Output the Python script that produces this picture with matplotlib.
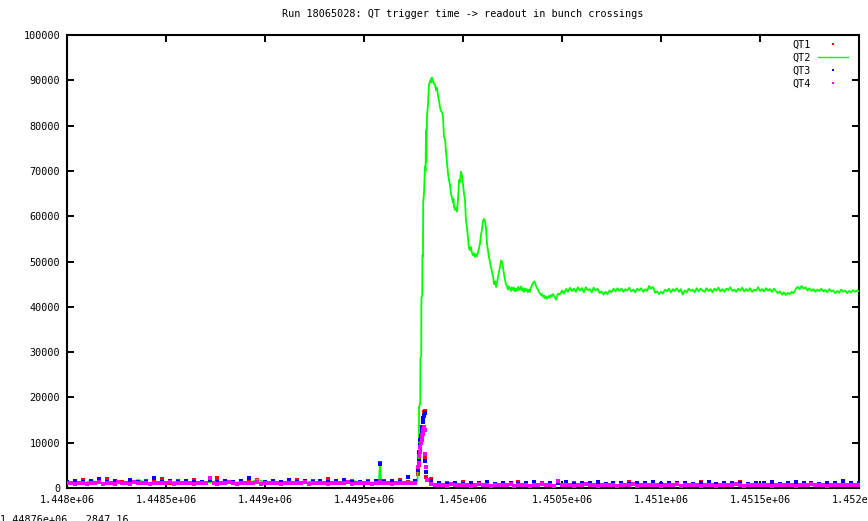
import numpy as np
import matplotlib
matplotlib.use("Agg")
import matplotlib.pyplot as plt
from matplotlib.lines import Line2D

title = "Run 18065028: QT trigger time -> readout in bunch crossings"
series_names = ["QT1", "QT2", "QT3", "QT4"]
series_colors = ["#ff0000", "#00ff00", "#0000ff", "#ff00ff"]
x_ticks = [1448000, 1448500, 1449000, 1449500, 1450000, 1450500, 1451000, 1451500, 1452000]
x_tick_labels = ["1.448e+06", "1.4485e+06", "1.449e+06", "1.4495e+06", "1.45e+06",
                 "1.4505e+06", "1.451e+06", "1.4515e+06", "1.452e+06"]
y_ticks = [0, 10000, 20000, 30000, 40000, 50000, 60000, 70000, 80000, 90000, 100000]
mouse_text = "1.44876e+06,  2847.16"

# ---- QT4 (magenta) baseline, 20-unit grid ----
mag_pre_start, mag_pre_step = 1448000, 20
mag_pre = [1000, 1100, 950, 1200, 1050, 900, 1150, 1000, 1300, 980,
           1100, 1050, 900, 1250, 1000, 1100, 950, 1400, 1050, 1000,
           1150, 900, 1100, 1200, 1000, 1050, 1300, 950, 1100, 1000,
           1150, 1050, 900, 1200, 1000, 1100, 2300, 1050, 950, 1100,
           1000, 1250, 1050, 900, 1100, 1000, 1150, 1050, 1300, 950,
           1100, 1000, 1200, 1050, 900, 1100, 1000, 1150, 1050, 1000,
           1250, 950, 1100, 1000, 1150, 1050, 900, 1200, 1000, 1100,
           1050, 1300, 950, 1100, 1000, 1150, 1050, 900, 1100, 1000,
           1200, 1050, 950, 1100, 1000, 1150, 1050, 1000, 1100]
mag_post_start, mag_post_step = 1449820, 20
mag_post = [1800, 900, 700, 600, 750, 550, 800, 650, 700, 600,
            750, 500, 650, 800, 600, 700, 550, 750, 650, 600,
            700, 800, 550, 650, 600, 750, 500, 700, 650, 800,
            600, 700, 550, 1500, 650, 600, 750, 500, 700, 650,
            800, 600, 700, 550, 650, 750, 600, 700, 500, 650,
            700, 600, 800, 550, 650, 700, 600, 750, 650, 550,
            700, 650, 600, 800, 550, 700, 650, 600, 750, 500,
            650, 700, 600, 550, 750, 650, 700, 600, 800, 650,
            550, 700, 600, 650, 750, 600, 700, 550, 650, 700,
            600, 750, 650, 550, 700, 600, 650, 800, 600, 700,
            650, 550, 700, 600, 750, 650, 600, 700, 650, 600]

# ---- QT1 (red) and QT3 (blue) baselines, 40-unit grid ----
rb_pre_start, rb_post_start, rb_step = 1448000, 1449840, 40
red_pre = [1400, 1200, 1800, 1300, 1500, 2000, 1250, 1400, 1600, 1300,
           1500, 1350, 1900, 1200, 1450, 1300, 1700, 1250, 1500, 2100,
           1300, 1400, 1600, 1250, 1800, 1350, 1500, 1200, 1450, 1700,
           1300, 1550, 1250, 1900, 1400, 1300, 1600, 1350, 1500, 1250,
           1450, 1300, 1700, 1400, 1350]
red_post = [2000, 900, 1100, 800, 1300, 950, 1000, 1200, 850, 1100,
            950, 1250, 900, 1000, 1150, 850, 1300, 950, 1050, 900,
            1100, 1200, 850, 1000, 950, 1300, 900, 1100, 1000, 850,
            1200, 950, 1050, 900, 1250, 1000, 850, 1100, 950, 1300,
            900, 1050, 1000, 1200, 850, 1100, 950, 1000, 1150, 900,
            1050, 950, 1200, 1000, 900]
blue_pre = [1300, 1600, 1250, 1500, 1900, 1350, 1450, 1200, 1700, 1400,
            1250, 2200, 1350, 1500, 1300, 1650, 1400, 1250, 1800, 1350,
            1500, 1300, 1450, 2300, 1400, 1250, 1550, 1350, 1700, 1300,
            1450, 1250, 1600, 1350, 1500, 1800, 1300, 1400, 1250, 1650,
            1350, 1500, 1300, 2400, 1450]
blue_post = [1500, 1000, 900, 1200, 850, 1100, 1000, 1300, 950, 1050,
             1200, 900, 1050, 1350, 950, 1100, 1000, 1250, 900, 1150,
             1000, 1300, 950, 1050, 1200, 900, 1100, 1000, 1250, 950,
             1100, 1000, 1200, 900, 1050, 1350, 950, 1100, 1000, 1200,
             950, 1150, 1000, 1300, 900, 1050, 1250, 1000, 1100, 950,
             1200, 1050, 1500, 1000, 1100]

# ---- spikes of the dot series ----
spike_x = [1449581, 1449773, 1449776, 1449779, 1449782, 1449785, 1449788,
           1449791, 1449794, 1449797, 1449800, 1449803, 1449806, 1449809, 1449813]
red_spike = [5500, 3000, 5000, 6500, 8500, 9500, 11000, 12000, 13500, 14500,
             15500, 16800, 16900, 6900, 2500]
blue_spike = [5200, 4000, 6000, 8000, 9500, 10500, 11500, 12500, 13500, 14500,
              15500, 16000, 16500, 6000, 3500]
mag_spike = [1500, 4600, 5500, 7000, 8000, 9000, 10000, 10600, 11500, 12000,
             12800, 13500, 12800, 7500, 4600]

# ---- QT2 (green) ----
green_pre_start, green_pre_step = 1448000, 40
green_pre = [1100, 1300, 1000, 1600, 1200, 1100, 1400, 1000, 1250, 1800,
             1100, 1300, 1050, 1200, 1500, 1000, 1350, 1100, 1250, 1000,
             1400, 1150, 1300, 1000, 1900, 1200, 1100, 1350, 1050, 1250,
             1100, 1500, 1000, 1300, 1200, 1050, 1700, 1100, 1300, 1150]
green_peak_x = [1449575, 1449581, 1449587, 1449600, 1449640, 1449680, 1449720, 1449760, 1449770,
                1449773, 1449777, 1449778, 1449784, 1449785, 1449789, 1449790, 1449794,
                1449795, 1449798, 1449799, 1449803, 1449808, 1449811, 1449813, 1449815,
                1449818, 1449823, 1449828, 1449833, 1449838, 1449841, 1449843, 1449848,
                1449854, 1449859, 1449864, 1449869, 1449874, 1449879, 1449884, 1449889,
                1449894, 1449899, 1449904, 1449909, 1449914, 1449919, 1449924, 1449929,
                1449934, 1449939, 1449944, 1449949, 1449952, 1449955, 1449960, 1449965,
                1449970, 1449975, 1449980, 1449985, 1449990, 1449995, 1450000, 1450005,
                1450010, 1450015, 1450020, 1450025, 1450030, 1450035, 1450040, 1450045,
                1450050, 1450056, 1450061, 1450066, 1450071, 1450076, 1450081, 1450086,
                1450091, 1450096, 1450101, 1450106, 1450111, 1450116, 1450121, 1450126,
                1450131, 1450136, 1450141, 1450146, 1450152, 1450157, 1450162, 1450167,
                1450172, 1450177, 1450182, 1450187, 1450192, 1450197, 1450202, 1450207,
                1450212, 1450217, 1450222, 1450227, 1450232, 1450237, 1450242, 1450247,
                1450253, 1450258, 1450263, 1450268, 1450273, 1450278, 1450283, 1450288,
                1450293, 1450298, 1450303, 1450308, 1450313, 1450318, 1450323, 1450328,
                1450333, 1450338, 1450343, 1450348, 1450354, 1450359, 1450364, 1450369,
                1450374, 1450379, 1450384, 1450389, 1450394, 1450399, 1450404, 1450409,
                1450414, 1450419, 1450424, 1450429, 1450434, 1450439, 1450444, 1450449,
                1450455, 1450460, 1450465, 1450470, 1450475, 1450480]
green_peak_y = [1100, 5500, 1000, 1200, 1300, 1100, 1400, 1200, 1500,
                6000, 6200, 18000, 18500, 28700, 29000, 42000, 42500,
                51400, 51000, 63000, 65000, 71000, 70000, 79000, 72000,
                82000, 84500, 89000, 89600, 90300, 89500, 90600, 90000,
                89200, 89000, 87800, 88300, 86500, 85500, 84000, 83200,
                83000, 82000, 77500, 77000, 74600, 72000, 69500, 68000,
                67000, 65000, 64200, 63000, 63800, 62000, 61400, 61800,
                61000, 64000, 68000, 67500, 69800, 69000, 67000, 65000,
                63600, 59000, 57600, 55400, 53000, 52500, 53200, 52000,
                51400, 51800, 51000, 51600, 51200, 52000, 53000, 54000,
                56000, 57000, 59000, 59400, 58800, 57600, 54000, 52500,
                51000, 50000, 48800, 47800, 46600, 45000, 45600, 44400,
                45400, 46600, 47800, 48800, 50200, 50000, 48800, 47200,
                46000, 45000, 44600, 43800, 44500, 44100, 43500, 44300,
                43700, 44200, 43400, 44000, 43600, 44400, 43700, 43900,
                44500, 43600, 44100, 43300, 44000, 43500, 43900, 43200,
                43800, 43300, 44200, 44800, 45200, 45600, 45300, 44600,
                44100, 43800, 43200, 43000, 42600, 42800, 42200, 42500,
                41900, 42300, 41800, 42100, 42400, 42000, 42600, 42300,
                42800, 42400, 42000, 41600, 42300, 42900]
green_flat_start, green_flat_step = 1450490, 10
green_flat = [42800, 43600, 42900, 43900, 43300, 44200, 43500, 44000, 43300, 44300,
              43600, 44100, 43200, 44300, 43700, 43900, 43200, 44200, 43600, 44000,
              43000, 43400, 42700, 43300, 42800, 43600, 43200, 44000, 43400, 44100,
              43500, 44000, 43300, 43900, 43600, 44200, 43400, 43800, 43200, 44000,
              43600, 44100, 43300, 43900, 43500, 44600, 44000, 44400, 43100, 43400,
              42800, 43300, 42900, 43800, 43400, 44000, 43200, 43900, 43500, 44100,
              43300, 43900, 42700, 43600, 43200, 44000, 43500, 43800, 43200, 44100,
              43400, 44000, 43600, 43300, 44100, 43500, 43900, 43200, 44000, 43600,
              44200, 43400, 43900, 43300, 44000, 43700, 44300, 43500, 43800, 43300,
              44000, 43600, 44200, 43400, 43900, 43500, 44100, 43300, 43800, 43600,
              44300, 43500, 43900, 43400, 44100, 43600, 43900, 43300, 44000, 43500,
              43000, 43400, 42700, 43200, 42600, 43100, 42800, 43300, 43000, 43900,
              44400, 43900, 44600, 44000, 44300, 43600, 44100, 43500, 43900, 43300,
              43800, 43500, 44000, 43400, 43700, 43200, 43900, 43400, 43600, 43000,
              43500, 43100, 43800, 43300, 43600, 43000, 43500, 43200, 43700, 43300,
              43600, 43400]


def grid(start, step, vals):
    return start + step * np.arange(len(vals))


def merge(parts):
    xs = np.concatenate([np.asarray(p[0], float) for p in parts])
    ys = np.concatenate([np.asarray(p[1], float) for p in parts])
    order = np.argsort(xs, kind="stable")
    return xs[order], ys[order]


red_x, red_y = merge([(grid(rb_pre_start, rb_step, red_pre), red_pre),
                      (spike_x, red_spike),
                      (grid(rb_post_start, rb_step, red_post), red_post)])
blue_x, blue_y = merge([(grid(rb_pre_start, rb_step, blue_pre), blue_pre),
                        (spike_x, blue_spike),
                        (grid(rb_post_start, rb_step, blue_post), blue_post)])
mag_x, mag_y = merge([(grid(mag_pre_start, mag_pre_step, mag_pre), mag_pre),
                      (spike_x, mag_spike),
                      (grid(mag_post_start, mag_post_step, mag_post), mag_post)])
green_x, green_y = merge([(grid(green_pre_start, green_pre_step, green_pre), green_pre),
                          (green_peak_x, green_peak_y),
                          (grid(green_flat_start, green_flat_step, green_flat), green_flat)])

plt.rcParams['font.family'] = ['DejaVu Sans Mono']
plt.rcParams['font.size'] = 7.3

W, H = 868, 521
fig = plt.figure(figsize=(W / 100, H / 100), dpi=100)
L, R, T, B = 67, 859, 35, 488
ax = fig.add_axes([L / W, 1 - B / H, (R - L) / W, (B - T) / H])

ms = 2.2
ax.plot(red_x, red_y, linestyle='none', marker='s', markersize=ms, markeredgewidth=0,
        color=series_colors[0], zorder=2)
ax.plot(green_x, green_y, linestyle='-', linewidth=1.3, color=series_colors[1], zorder=3)
ax.plot(blue_x, blue_y, linestyle='none', marker='s', markersize=ms, markeredgewidth=0,
        color=series_colors[2], zorder=4)
ax.plot(mag_x, mag_y, linestyle='none', marker='s', markersize=ms + 0.6, markeredgewidth=0,
        color=series_colors[3], zorder=5)

ax.set_xlim(x_ticks[0], x_ticks[-1])
ax.set_ylim(y_ticks[0], y_ticks[-1])
ax.set_xticks(x_ticks)
ax.set_xticklabels(x_tick_labels)
ax.set_yticks(y_ticks)
ax.set_yticklabels([str(v) for v in y_ticks])
ax.tick_params(direction='in', length=5, width=1.4, top=True, right=True,
               labelsize=7.3, pad=5, colors='black')
for s in ax.spines.values():
    s.set_linewidth(1.5)

ax.set_title(title, fontsize=7.3, pad=13)

handles = [
    Line2D([], [], linestyle='none', marker='s', markersize=1.5, markeredgewidth=0, color=series_colors[0]),
    Line2D([], [], linestyle='-', linewidth=1.0, color=series_colors[1]),
    Line2D([], [], linestyle='none', marker='s', markersize=1.5, markeredgewidth=0, color=series_colors[2]),
    Line2D([], [], linestyle='none', marker='s', markersize=1.5, markeredgewidth=0, color=series_colors[3]),
]
ax.legend(handles, series_names, loc='upper right', frameon=False, markerfirst=False,
          bbox_to_anchor=(1 - 11 / 792, 1 - 5 / 453), borderpad=0, borderaxespad=0,
          handlelength=3.0, handletextpad=0.7, labelspacing=0.28, fontsize=7.3)

fig.text(0.0, 1 - 515 / H, mouse_text, ha='left', va='top', fontsize=7.3)

fig.savefig("out.png", dpi=100)
